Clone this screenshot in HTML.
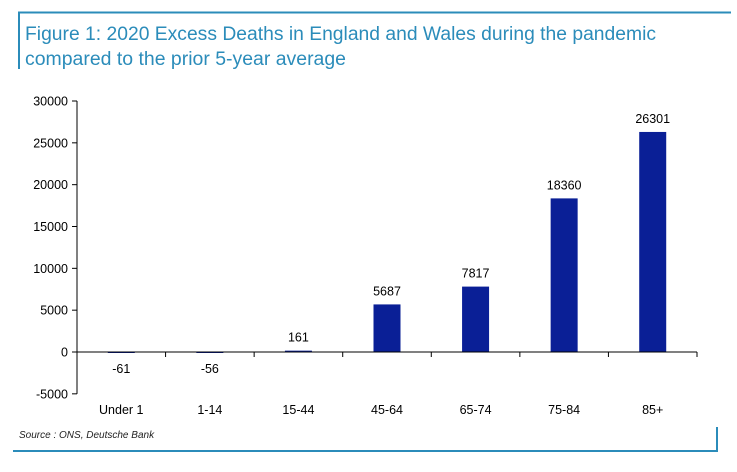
<!DOCTYPE html>
<html><head><meta charset="utf-8"><style>
html,body{margin:0;padding:0;background:#fff;}
svg{display:block;font-family:"Liberation Sans",Arial,sans-serif;}
</style></head><body>
<svg id="chart" width="737" height="472" viewBox="0 0 737 472">
<line x1="18" y1="12.5" x2="731" y2="12.5" stroke="#2b8cba" stroke-width="2"/>
<line x1="19" y1="12" x2="19" y2="69" stroke="#2b8cba" stroke-width="2"/>
<text x="25" y="40" font-size="19" fill="#2b8cba" textLength="631" lengthAdjust="spacingAndGlyphs">Figure 1: 2020 Excess Deaths in England and Wales during the pandemic</text>
<text x="25" y="65" font-size="19" fill="#2b8cba" textLength="321" lengthAdjust="spacingAndGlyphs">compared to the prior 5-year average</text>
<text x="19" y="438" font-size="10" font-style="italic" fill="#222">Source : ONS, Deutsche Bank</text>
<line x1="13" y1="451" x2="718" y2="451" stroke="#2b8cba" stroke-width="2"/>
<line x1="717" y1="427" x2="717" y2="452" stroke="#2b8cba" stroke-width="2"/>
<g id="plot"></g>
</svg>
<script>
const categories = ["Under 1","1-14","15-44","45-64","65-74","75-84","85+"];
const values = [-61,-56,161,5687,7817,18360,26301];
const yTicks = [-5000,0,5000,10000,15000,20000,25000,30000];
const yTickLabels = ["-5000","0","5000","10000","15000","20000","25000","30000"];

const NS="http://www.w3.org/2000/svg";
const g=document.getElementById('plot');
const x0=77, x1=697, y0=352, pxPer=251/30000;
const bandW=(x1-x0)/categories.length, barW=27;
function yScale(v){return y0 - v*pxPer;}
function xBand(i){return x0 + i*bandW;}
function mk(tag,attrs){const e=document.createElementNS(NS,tag);for(const k in attrs)e.setAttribute(k,attrs[k]);g.appendChild(e);return e;}

const ya=mk('line',{x1:x0,y1:yScale(30000),x2:x0,y2:yScale(-5000),stroke:'#000','stroke-width':1});


yTicks.forEach((t,i)=>{
  const tk=mk('line',{x1:x0-5,x2:x0,y1:yScale(t),y2:yScale(t),stroke:'#000','stroke-width':1});
  
  
  const lb=mk('text',{x:x0-9,y:yScale(t)+4.5,'font-size':12.5,'text-anchor':'end',fill:'#000'});
  lb.textContent=yTickLabels[i];
  
  
});
values.forEach((v,i)=>{
  const cx=xBand(i)+bandW/2;
  const top=yScale(Math.max(v,0)), bot=yScale(Math.min(v,0));
  const b=mk('rect',{x:cx-barW/2,y:top,width:barW,height:Math.max(bot-top,1),fill:'#0a1f96'});
  
  
  const vl=mk('text',{x:cx,y:v<0?yScale(0)+21:top-9,'font-size':12.5,'text-anchor':'middle',fill:'#000'});
  vl.textContent=String(v);
  
  
  const cl=mk('text',{x:cx,y:414,'font-size':12.5,'text-anchor':'middle',fill:'#000'});
  cl.textContent=categories[i];
  
  
  if(i>0){
    const tk=mk('line',{x1:xBand(i),x2:xBand(i),y1:y0,y2:y0+5,stroke:'#000','stroke-width':1});
    
    
  }
});
const tkE=mk('line',{x1:x1,x2:x1,y1:y0,y2:y0+5,stroke:'#000','stroke-width':1});


const xa=mk('line',{x1:x0,y1:y0,x2:x1,y2:y0,stroke:'#000','stroke-width':1});


</script>
</body></html>
